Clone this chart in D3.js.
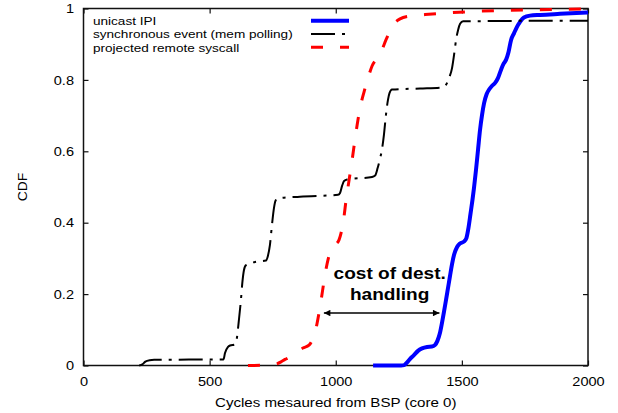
<!DOCTYPE html>
<html>
<head>
<meta charset="utf-8">
<script src="https://cdn.jsdelivr.net/npm/d3@7"></script>
<style>
  html, body { margin: 0; padding: 0; background: #fff; }
  svg { display: block; }
  text { font-family: "Liberation Sans", Arial, Helvetica, sans-serif; fill: #000; }
</style>
</head>
<body>
<svg id="chart" width="618" height="413"></svg>
<script>
// Series: cycles measured from BSP (core 0) vs cumulative fraction
const unicastX = [1148, 1259, 1271, 1282, 1294, 1310, 1326, 1342, 1362, 1381, 1393, 1403, 1413, 1421, 1429, 1437, 1445, 1453, 1461, 1469, 1481, 1493, 1508, 1518, 1526, 1534, 1542, 1548, 1556, 1564, 1572, 1580, 1588, 1598, 1608, 1619, 1631, 1643, 1655, 1665, 1675, 1685, 1695, 1707, 1718, 1730, 1746, 1770, 1810, 1889, 2000];
const unicastY = [0, 0, 0.001, 0.008, 0.018, 0.029, 0.041, 0.048, 0.052, 0.053, 0.057, 0.069, 0.091, 0.119, 0.15, 0.183, 0.217, 0.251, 0.284, 0.31, 0.332, 0.342, 0.347, 0.357, 0.385, 0.424, 0.464, 0.497, 0.548, 0.604, 0.66, 0.702, 0.735, 0.76, 0.773, 0.783, 0.791, 0.805, 0.828, 0.845, 0.856, 0.878, 0.912, 0.931, 0.948, 0.962, 0.975, 0.98, 0.982, 0.985, 0.989];

const syncX = [221, 235, 245, 262, 280, 555, 561, 573, 581, 601, 608, 616, 624, 630, 636, 644, 680, 723, 731, 739, 747, 755, 761, 769, 858, 1009, 1017, 1025, 1033, 1045, 1144, 1156, 1166, 1176, 1183, 1191, 1199, 1207, 1213, 1223, 1334, 1425, 1437, 1449, 1461, 1469, 1477, 1485, 1493, 1505, 1651, 2000];
const syncY = [0, 0.004, 0.011, 0.015, 0.016, 0.017, 0.035, 0.052, 0.056, 0.059, 0.077, 0.127, 0.183, 0.234, 0.267, 0.281, 0.29, 0.294, 0.307, 0.337, 0.393, 0.441, 0.461, 0.468, 0.473, 0.478, 0.483, 0.503, 0.517, 0.521, 0.528, 0.532, 0.553, 0.581, 0.604, 0.646, 0.702, 0.744, 0.763, 0.773, 0.776, 0.779, 0.786, 0.805, 0.833, 0.87, 0.912, 0.94, 0.957, 0.964, 0.965, 0.966];

const syscallX = [652, 731, 763, 783, 799, 819, 846, 870, 894, 910, 922, 932, 942, 951, 961, 973, 985, 1001, 1013, 1021, 1031, 1041, 1053, 1065, 1076, 1088, 1100, 1112, 1128, 1144, 1164, 1183, 1199, 1215, 1231, 1255, 1294, 1354, 1433, 1552, 1691, 1850, 2000];
const syscallY = [0, 0.001, 0.004, 0.01, 0.017, 0.024, 0.038, 0.049, 0.057, 0.077, 0.105, 0.141, 0.183, 0.225, 0.268, 0.307, 0.329, 0.34, 0.352, 0.371, 0.408, 0.464, 0.52, 0.576, 0.632, 0.688, 0.733, 0.766, 0.805, 0.839, 0.861, 0.884, 0.912, 0.937, 0.957, 0.971, 0.979, 0.983, 0.987, 0.992, 0.995, 0.997, 0.999];

const seriesNames = ["unicast IPI", "synchronous event (mem polling)", "projected remote syscall"];
const xTicks = [0, 500, 1000, 1500, 2000];
const yTicks = [0, 0.2, 0.4, 0.6, 0.8, 1];
const yTickLabels = ["0", "0.2", "0.4", "0.6", "0.8", "1"];
const xTitle = "Cycles mesaured from BSP (core 0)";
const yTitle = "CDF";
const noteLines = ["cost of dest.", "handling"];
const noteArrow = [953, 1411, 0.147];   // from x, to x, at cdf

const svg = d3.select("#chart");
const plotL = 83.5, plotR = 588, plotT = 8.5, plotB = 365.5;
const x = d3.scaleLinear().domain([0, 2000]).range([plotL, plotR]);
const y = d3.scaleLinear().domain([0, 1]).range([plotB, plotT]);

// horizontally widened text, as in the original typesetting
function stretchText(sel, sx) {
  sel.each(function () {
    const t = d3.select(this);
    const tx = +t.attr("x") || 0;
    t.attr("x", 0).attr("transform", `translate(${tx},0) scale(${sx},1)`);
  });
}

const tickLen = 5;
// bottom axis with labels
const gx = svg.append("g").attr("transform", `translate(0,${plotB})`)
  .call(d3.axisBottom(x).tickValues(xTicks).tickSizeInner(-tickLen).tickSizeOuter(0).tickPadding(11).tickFormat(d3.format("d")));
gx.selectAll("text").attr("font-size", 13);
stretchText(gx.selectAll("text"), 1.12);
// top axis ticks only
svg.append("g").attr("transform", `translate(0,${plotT})`)
  .call(d3.axisTop(x).tickValues(xTicks).tickSizeInner(-tickLen).tickSizeOuter(0).tickFormat(""));
// left axis with labels
const gy = svg.append("g").attr("transform", `translate(${plotL},0)`)
  .call(d3.axisLeft(y).tickValues(yTicks).tickSizeInner(-tickLen).tickSizeOuter(0).tickPadding(9.5)
    .tickFormat((d, i) => yTickLabels[i]));
gy.selectAll("text").attr("font-size", 13);
stretchText(gy.selectAll("text"), 1.12);
// right axis ticks only
svg.append("g").attr("transform", `translate(${plotR},0)`)
  .call(d3.axisRight(y).tickValues(yTicks).tickSizeInner(-tickLen).tickSizeOuter(0).tickFormat(""));

svg.selectAll(".domain").remove();
svg.selectAll(".tick line").attr("stroke", "#111").attr("stroke-width", 1.2);

// frame
svg.append("rect")
  .attr("x", plotL).attr("y", plotT)
  .attr("width", plotR - plotL).attr("height", plotB - plotT)
  .attr("fill", "none").attr("stroke", "#111").attr("stroke-width", 1.5);

// axis titles
svg.append("text")
  .attr("transform", `translate(${(plotL + plotR) / 2},407) scale(1.2,1)`)
  .attr("text-anchor", "middle").attr("font-size", 12.6)
  .text(xTitle);
svg.append("text")
  .attr("transform", `translate(27,${(plotT + plotB) / 2}) rotate(-90) scale(1.1,1)`)
  .attr("text-anchor", "middle").attr("font-size", 12.6)
  .text(yTitle);

// curves
const line = d3.line().x(d => x(d[0])).y(d => y(d[1])).curve(d3.curveMonotoneX);
const styles = [
  { color: "#0000ff", width: 4, dash: null },
  { color: "#000000", width: 2, dash: "24,7,3,7" },
  { color: "#ff0000", width: 3, dash: "12,17" }
];
const series = [
  d3.zip(unicastX, unicastY),
  d3.zip(syncX, syncY),
  d3.zip(syscallX, syscallY)
];
series.forEach((pts, i) => {
  svg.append("path")
    .datum(pts)
    .attr("d", line)
    .attr("fill", "none")
    .attr("stroke", styles[i].color)
    .attr("stroke-width", styles[i].width)
    .attr("stroke-dasharray", styles[i].dash)
    .attr("stroke-linejoin", "round");
});

// legend
const legendRows = [20.7, 34, 47.3];
seriesNames.forEach((name, i) => {
  svg.append("text")
    .attr("transform", `translate(93,${legendRows[i] + 4.2}) scale(1.16,1)`)
    .attr("font-size", 11.7)
    .text(name);
  svg.append("line")
    .attr("x1", 311).attr("x2", 349)
    .attr("y1", legendRows[i]).attr("y2", legendRows[i])
    .attr("stroke", styles[i].color)
    .attr("stroke-width", styles[i].width)
    .attr("stroke-dasharray", styles[i].dash);
});

// annotation: gap between the remote syscall and the IPI curves
const noteX = x((noteArrow[0] + noteArrow[1]) / 2) + 8;
noteLines.forEach((t, i) => {
  svg.append("text")
    .attr("transform", `translate(${noteX},${279 + i * 21}) scale(1.17,1)`)
    .attr("text-anchor", "middle")
    .attr("font-size", 16.3).attr("font-weight", "bold")
    .text(t);
});
const defs = svg.append("defs");
defs.append("marker").attr("id", "head")
  .attr("viewBox", "0 0 10 10").attr("refX", 10).attr("refY", 5)
  .attr("markerWidth", 8).attr("markerHeight", 6.5).attr("markerUnits", "userSpaceOnUse")
  .attr("orient", "auto-start-reverse")
  .append("path").attr("d", "M0,0L10,5L0,10Z").attr("fill", "#000");
svg.append("line")
  .attr("x1", x(noteArrow[0])).attr("x2", x(noteArrow[1]))
  .attr("y1", y(noteArrow[2])).attr("y2", y(noteArrow[2]))
  .attr("stroke", "#000").attr("stroke-width", 1.4)
  .attr("marker-start", "url(#head)").attr("marker-end", "url(#head)");
</script>
</body>
</html>
